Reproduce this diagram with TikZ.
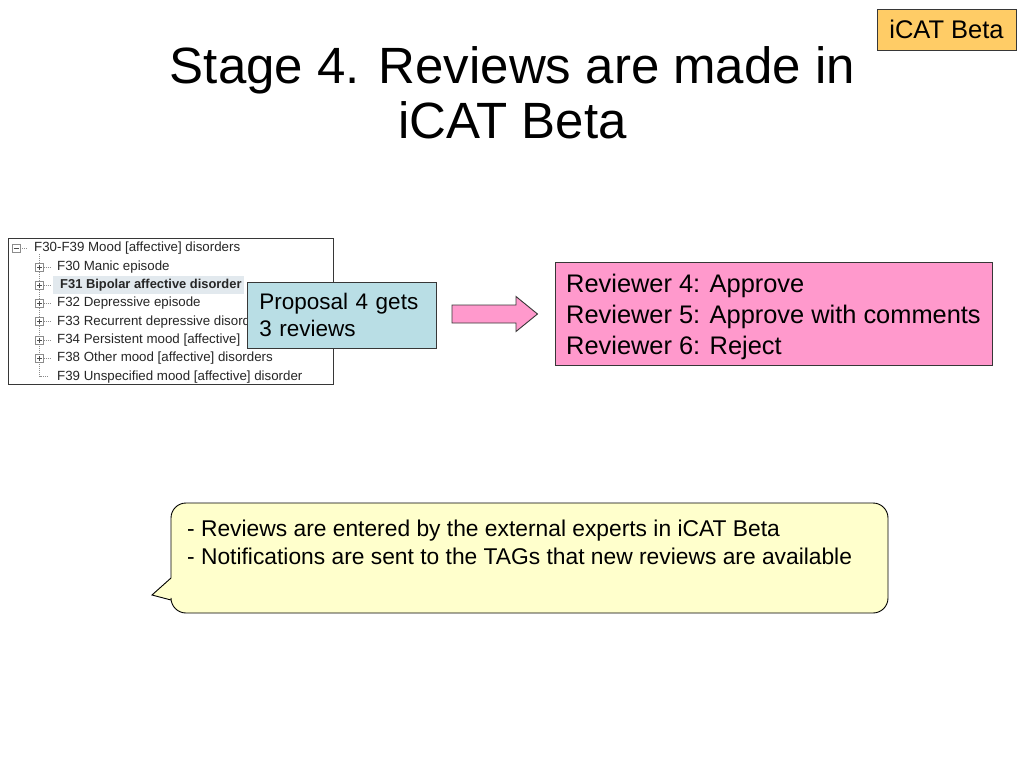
\documentclass[tikz,border=0pt]{standalone}
\usepackage{fontspec}
\setmainfont{Liberation Sans}
\definecolor{propblue}{RGB}{185,222,229}
\definecolor{revpink}{RGB}{255,153,204}
\definecolor{noteyellow}{RGB}{255,255,204}
\definecolor{tagorange}{RGB}{255,204,102}
\definecolor{edgegray}{RGB}{55,55,55}
\definecolor{treehl}{RGB}{226,233,238}
\definecolor{treeline}{RGB}{140,140,140}
\tikzset{
  box/.style={draw=edgegray, line width=0.9pt, inner sep=0pt},
  treetext/.style={anchor=west, inner sep=0pt, font=\fontsize{13.3}{15}\selectfont, text=black!85},
  iconbox/.style={draw=treeline, fill=white, line width=0.6pt, minimum size=8, inner sep=0pt},
  dots/.style={draw=treeline, line width=0.6pt, dash pattern=on 1pt off 1pt},
}
\begin{document}
\begin{tikzpicture}[x=1pt,y=-1pt]
\useasboundingbox (0,0) rectangle (1024,768);
\fill[white] (0,0) rectangle (1024,768);

% title
\node[align=center, font=\fontsize{51}{55}\selectfont, inner sep=0pt, anchor=base] (title) at (512.5,138.3) {Stage 4. Reviews are made in\\iCAT Beta};

% tag top right
\node[box, fill=tagorange, minimum width=139, minimum height=41, font=\fontsize{25.5}{28}\selectfont] (tag) at (946.5,29.5) {iCAT Beta};

% tree screenshot
\node[draw=edgegray, line width=0.8pt, minimum width=325, minimum height=146, anchor=north west, inner sep=0pt] (tree) at (8,238) {};
\begin{scope}
\clip (8,238) rectangle (333,384);
\fill[treehl] (53,275.5) rectangle (244,294);
\draw[dots] (39.5,254) -- (39.5,376.7) -- (47,376.7);
\foreach \yy/\nm in {267/a,285/b,303.3/c,321.7/d,340/e,358.3/f}{
  \draw[dots] (43.5,\yy) -- (50,\yy);
  \node[iconbox] (plus\nm) at (39.5,\yy) {};
  \draw[black!70, line width=0.7pt] (37,\yy) -- (42,\yy) (39.5,\yy-2.5) -- (39.5,\yy+2.5);
}
\draw[dots] (20,248.3) -- (28,248.3);
\node[iconbox] (minus) at (16,248.3) {};
\draw[black!70, line width=0.7pt] (13.5,248.3) -- (18.5,248.3);
\node[treetext] (t0) at (34,248.3) {F30-F39 Mood [affective] disorders};
\node[treetext] (t1) at (57,267) {F30 Manic episode};
\node[treetext, font=\fontsize{12.9}{15}\selectfont\bfseries] (t2) at (60,285) {F31 Bipolar affective disorder};
\node[treetext] (t3) at (57,303.3) {F32 Depressive episode};
\node[treetext] (t4) at (57,321.7) {F33 Recurrent depressive disord};
\node[treetext] (t5) at (57,340) {F34 Persistent mood [affective]};
\node[treetext] (t6) at (57,358.3) {F38 Other mood [affective] disorders};
\node[treetext] (t7) at (57,376.7) {F39 Unspecified mood [affective] disorder};
\end{scope}

% proposal box
\node[box, fill=propblue, anchor=north west, minimum width=189, minimum height=66, text width=165, inner xsep=12pt, align=left, font=\fontsize{22.5}{27}\selectfont] (prop) at (247,282) {Proposal 4 gets\\3 reviews};

% block arrow
\draw[box, fill=revpink] (452,305) -- (516,305) -- (516,296.5) -- (537.5,314) -- (516,331.5) -- (516,323) -- (452,323) -- cycle;

% reviewers box
\node[box, fill=revpink, anchor=north west, minimum width=437, minimum height=103] (rev) at (555,262) {};
\node[anchor=west, inner sep=0pt, align=left, font=\fontsize{25.4}{31}\selectfont] (revtext) at (566,316.5) {Reviewer 4: Approve\\Reviewer 5: Approve with comments\\Reviewer 6: Reject};

% callout
\draw[draw=black, line width=0.9pt, fill=noteyellow] (171,578) -- (152,595) -- (171,600) {[rounded corners=15pt] -- (171,613) -- (888,613) -- (888,503) -- (171,503)} -- cycle;
\node[anchor=base west, inner sep=0pt, font=\fontsize{22.8}{28}\selectfont] (n1) at (187,536.5) {- Reviews are entered by the external experts in iCAT Beta};
\node[anchor=base west, inner sep=0pt, font=\fontsize{22.8}{28}\selectfont] (n2) at (187,564.5) {- Notifications are sent to the TAGs that new reviews are available};
\end{tikzpicture}
\end{document}
